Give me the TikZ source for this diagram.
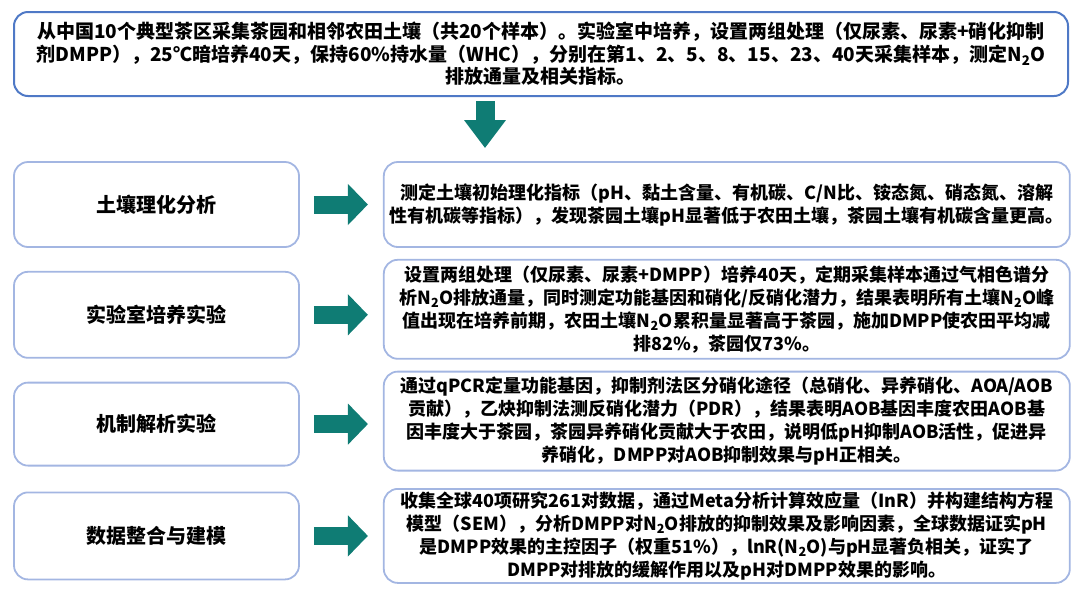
\documentclass[tikz,border=0pt]{standalone}
\usepackage{fontspec}
\setmainfont{Noto Sans CJK SC}
\usepackage{xcolor}
\usepackage{tikz}
\usetikzlibrary{
    arrows.meta,
    calc,
    positioning
}
\definecolor{topblue}{HTML}{4F79C6}
\definecolor{boxblue}{HTML}{A3B6E2}
\definecolor{arrowteal}{HTML}{0F7C74}
\tikzstyle{topbox}=[
    rectangle,
    rounded corners=14pt,
    minimum width=1054pt,
    minimum height=84pt,
    inner sep=0pt,
    align=center,
    draw=topblue,
    line width=2pt,
    font=\bfseries\fontsize{19}{22.5}\selectfont
]
\tikzstyle{stagebox}=[
    rectangle,
    rounded corners=14pt,
    minimum width=285pt,
    minimum height=85pt,
    inner sep=0pt,
    align=center,
    draw=boxblue,
    line width=1.8pt,
    font=\bfseries\fontsize{20}{24}\selectfont
]
\tikzstyle{detailbox}=[
    rectangle,
    rounded corners=14pt,
    minimum width=686pt,
    minimum height=85pt,
    inner sep=0pt,
    align=center,
    draw=boxblue,
    line width=1.8pt,
    font=\bfseries\fontsize{18}{23}\selectfont
]
\tikzstyle{blockarrow}=[
    draw=arrowteal,
    line width=18pt,
    -{Triangle[length=20pt,width=40pt]},
    shorten <=14pt,
    shorten >=15pt
]

\begin{document}
\begin{tikzpicture}[x=1pt,y=-1pt]
\useasboundingbox (0,0) rectangle (1080,590);
\node[topbox] (top) at (541,54) {从中国10个典型茶区采集茶园和相邻农田土壤（共20个样本）。实验室中培养，设置两组处理（仅尿素、尿素+硝化抑制\\剂DMPP），25℃暗培养40天，保持60\%持水量（WHC），分别在第1、2、5、8、15、23、40天采集样本，测定N\textsubscript{2}O\\排放通量及相关指标。};
\node[stagebox] (soil) at (156.5,204.5) {土壤理化分析};
\node[stagebox,below=23pt of soil,minimum height=86pt] (incub) {实验室培养实验};
\node[stagebox,below=23pt of incub,minimum height=83pt] (mech) {机制解析实验};
\node[stagebox,below=25pt of mech,minimum height=87pt] (model) {数据整合与建模};
\node[detailbox,right=83pt of soil] (soildet) {测定土壤初始理化指标（pH、黏土含量、有机碳、C/N比、铵态氮、硝态氮、溶解\\性有机碳等指标），发现茶园土壤pH显著低于农田土壤，茶园土壤有机碳含量更高。};
\node[detailbox,right=83pt of incub,yshift=5.5pt,minimum height=99pt] (incubdet) {设置两组处理（仅尿素、尿素+DMPP）培养40天，定期采集样本通过气相色谱分\\析N\textsubscript{2}O排放通量，同时测定功能基因和硝化/反硝化潜力，结果表明所有土壤N\textsubscript{2}O峰\\值出现在培养前期，农田土壤N\textsubscript{2}O累积量显著高于茶园，施加DMPP使农田平均减\\排82\%，茶园仅73\%。};
\node[detailbox,right=83pt of mech,yshift=3pt,minimum height=99pt] (mechdet) {通过qPCR定量功能基因，抑制剂法区分硝化途径（总硝化、异养硝化、AOA/AOB\\贡献），乙炔抑制法测反硝化潜力（PDR），结果表明AOB基因丰度农田AOB基\\因丰度大于茶园，茶园异养硝化贡献大于农田，说明低pH抑制AOB活性，促进异\\养硝化，DMPP对AOB抑制效果与pH正相关。};
\node[detailbox,right=83pt of model,minimum height=94pt] (modeldet) {收集全球40项研究261对数据，通过Meta分析计算效应量（InR）并构建结构方程\\模型（SEM），分析DMPP对N\textsubscript{2}O排放的抑制效果及影响因素，全球数据证实pH\\是DMPP效果的主控因子（权重51\%），lnR(N\textsubscript{2}O)与pH显著负相关，证实了\\DMPP对排放的缓解作用以及pH对DMPP效果的影响。};

\draw[blockarrow,line width=19pt,-{Triangle[length=28pt,width=40pt]},shorten <=4pt,shorten >=13pt] ([xshift=-56pt]top.south) -- ([xshift=-56pt]top.south |- soildet.north);
\draw[blockarrow] (soil) -- (soildet);
\draw[blockarrow] (incub.east) -- (incub.east -| incubdet.west);
\draw[blockarrow] (mech.east) -- (mech.east -| mechdet.west);
\draw[blockarrow] (model.east) -- (model.east -| modeldet.west);
\end{tikzpicture}
\end{document}
